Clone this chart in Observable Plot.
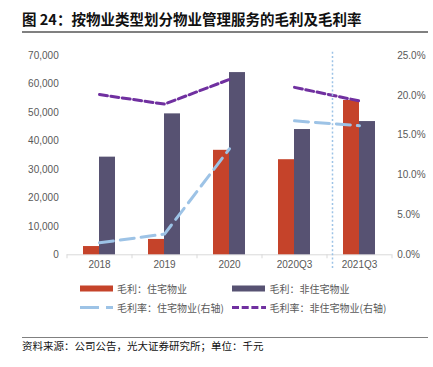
<!DOCTYPE html>
<html><head><meta charset="utf-8">
<script src="https://cdn.jsdelivr.net/npm/d3@7"></script>
<script src="https://cdn.jsdelivr.net/npm/@observablehq/plot@0.6"></script>
<style>
body{margin:0;background:#fff;width:433px;height:367px;position:relative;overflow:hidden;font-family:"Noto Sans CJK SC",sans-serif;}
#title{position:absolute;left:22px;top:9px;font-size:14.5px;font-weight:bold;color:#111;white-space:nowrap;line-height:20px}
.rule{position:absolute;left:22px;width:406px;height:2px;background:#808080}
#chart{position:absolute;left:0;top:40px}
.leg{position:absolute;font-size:10px;color:#595959;white-space:nowrap;line-height:12px}
.sw{position:absolute}
#foot{position:absolute;left:22px;top:338px;font-size:10.5px;color:#111;line-height:15px;white-space:nowrap}
</style></head><body>
<div id="title">图 24：按物业类型划分物业管理服务的毛利及毛利率</div>
<div class="rule" style="top:31px"></div>
<div id="chart"></div>
<svg class="sw" style="left:80px;top:285px" width="34" height="7"><rect x="0" y="0.5" width="33" height="6" fill="#C5432A"/></svg>
<div class="leg" style="left:117px;top:282.5px">毛利：住宅物业</div>
<svg class="sw" style="left:232px;top:285px" width="34" height="7"><rect x="0" y="0.5" width="33" height="6" fill="#575272"/></svg>
<div class="leg" style="left:269.5px;top:282.5px">毛利：非住宅物业</div>
<svg class="sw" style="left:80px;top:304px" width="34" height="7"><line x1="0" x2="33" y1="3.5" y2="3.5" stroke="#9DC3E6" stroke-width="3" stroke-dasharray="19,7"/></svg>
<div class="leg" style="left:117px;top:301.5px">毛利率：住宅物业(右轴)</div>
<svg class="sw" style="left:232px;top:304px" width="35" height="7"><line x1="0" x2="34" y1="3.5" y2="3.5" stroke="#7030A0" stroke-width="3" stroke-dasharray="7,2.7"/></svg>
<div class="leg" style="left:269.5px;top:301.5px">毛利率：非住宅物业(右轴)</div>
<div class="rule" style="top:336.5px;height:1.5px"></div>
<div id="foot">资料来源：公司公告，光大证券研究所；单位：千元</div>
<script>
const categories = ["2018", "2019", "2020", "2020Q3", "2021Q3"];
const periodGroup = ["年度", "年度", "年度", "三季度", "三季度"];
const profitResidential = [2900, 5400, 36700, 33400, 54200];
const profitNonResidential = [34300, 49500, 64000, 44000, 46800];
const marginResidential = [1.5, 2.6, 13.3, 16.8, 16.2];
const marginNonResidential = [20.1, 18.9, 22.0, 21.0, 19.3];
const leftTicks = [0, 10000, 20000, 30000, 40000, 50000, 60000, 70000];
const rightTicks = [0, 5, 10, 15, 20, 25];
const RATE = 70000 / 25; // right axis: 25% aligns with 70,000

const rows = categories.map((c, i) => ({
  cat: c, group: periodGroup[i],
  res: profitResidential[i], non: profitNonResidential[i],
  mr: marginResidential[i], mn: marginNonResidential[i]
}));

const chart = Plot.plot({
  width: 433, height: 240,
  marginTop: 15, marginBottom: 25.7, marginLeft: 66.7, marginRight: 41.3,
  style: {fontFamily: '"Liberation Sans", Arial, sans-serif', fontSize: "10px", color: "#595959", background: "transparent"},
  x: {type: "band", domain: categories, paddingInner: 0.7538, paddingOuter: 0.3769, label: null},
  y: {domain: [0, 70000], label: null},
  marks: [
    Plot.ruleY([0], {stroke: "#d9d9d9", strokeWidth: 1}),
    Plot.ruleX(categories, {x: d => d, y1: 0, y2: 0, insetBottom: -4, dx: -32.5, stroke: "#d9d9d9"}),
    Plot.ruleX([categories[categories.length - 1]], {x: d => d, y1: 0, y2: 0, insetBottom: -4, dx: 32.5, stroke: "#d9d9d9"}),
    Plot.barY(rows, {x: "cat", y: "res", dx: -8, fill: "#C5432A"}),
    Plot.barY(rows, {x: "cat", y: "non", dx: 8, fill: "#575272"}),
    Plot.line(rows, {x: "cat", y: d => d.mr * RATE, z: "group", stroke: "#9DC3E6", strokeWidth: 3, strokeDasharray: "14,7"}),
    Plot.line(rows, {x: "cat", y: d => d.mn * RATE, z: "group", stroke: "#7030A0", strokeWidth: 3, strokeDasharray: "8,3.5"}),
    Plot.ruleX([categories[4]], {x: d => d, dx: -27, y1: -4800, y2: 71500, stroke: "#9DC3E6", strokeDasharray: "2,2.2", strokeWidth: 1.5}),
    Plot.axisY(leftTicks, {tickSize: 0, tickPadding: 8.5, tickFormat: d3.format(",")}),
    Plot.axisY(rightTicks.map(t => t * RATE), {anchor: "right", tickSize: 0, tickPadding: 5, tickFormat: d => (d / RATE).toFixed(1) + "%"}),
    Plot.axisX({tickSize: 0, tickPadding: 6})
  ]
});
document.getElementById("chart").appendChild(chart);
</script>
</body></html>
